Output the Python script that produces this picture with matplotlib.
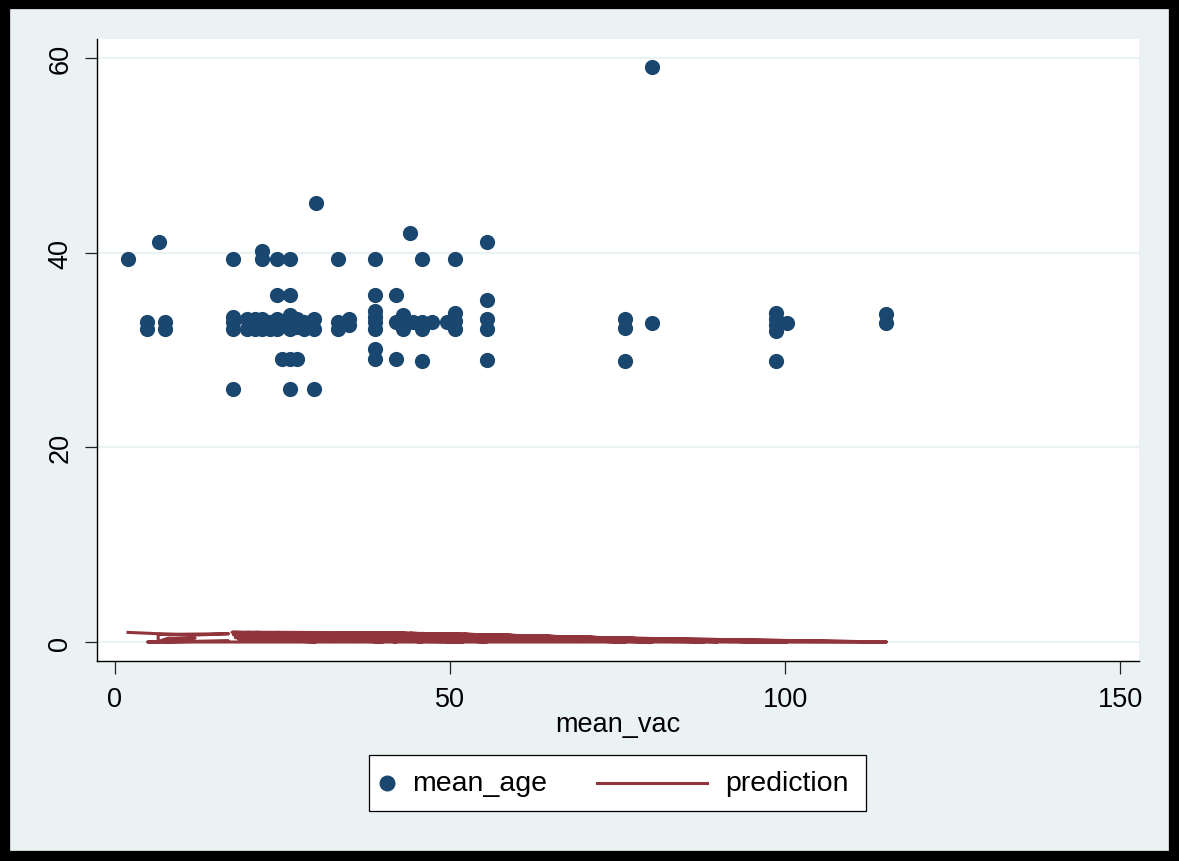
import matplotlib.pyplot as plt
from matplotlib.lines import Line2D
from matplotlib.patches import Rectangle

plt.rcParams['font.family'] = ['Liberation Sans', 'DejaVu Sans']

vac = [2.0, 4.8, 4.8, 6.6, 7.5, 7.5,
       17.7, 17.7, 17.7, 17.7, 17.7,
       19.7, 19.7, 21.0, 21.0,
       22.0, 22.0, 22.0, 22.0, 23.2, 23.2,
       24.2, 24.2, 24.2, 24.2, 25.0, 25.0,
       26.2, 26.2, 26.2, 26.2, 26.2, 26.2, 26.2,
       27.2, 27.2, 27.2, 28.2, 28.2,
       29.7, 29.7, 29.7, 30.0,
       33.3, 33.3, 33.3, 35.0, 35.0,
       38.9, 38.9, 38.9, 38.9, 38.9, 38.9, 38.9, 38.9,
       42.0, 42.0, 42.0, 43.0, 43.0, 43.0, 44.0, 44.5,
       45.9, 45.9, 45.9, 45.9, 47.4, 49.6,
       50.7, 50.7, 50.7, 50.7,
       55.5, 55.5, 55.5, 55.5, 55.5,
       76.2, 76.2, 76.2, 80.2, 80.2,
       98.7, 98.7, 98.7, 98.7, 98.7, 100.3,
       115.1, 115.1]
age = [39.3, 32.9, 32.2, 41.1, 32.9, 32.2,
       39.3, 33.4, 32.9, 32.2, 26.0,
       33.2, 32.2, 33.2, 32.2,
       40.2, 39.3, 33.2, 32.2, 32.9, 32.2,
       39.3, 35.6, 33.2, 32.2, 32.9, 29.1,
       39.3, 35.6, 33.6, 32.9, 32.2, 29.1, 26.0,
       33.2, 32.4, 29.1, 32.9, 32.2,
       33.2, 32.2, 26.0, 45.1,
       39.3, 32.9, 32.2, 33.2, 32.6,
       39.3, 35.6, 34.0, 33.4, 32.9, 32.2, 30.1, 29.1,
       35.6, 32.9, 29.1, 33.6, 32.9, 32.2, 42.0, 32.9,
       39.3, 32.9, 32.2, 28.9, 32.9, 32.9,
       39.3, 33.8, 33.0, 32.2,
       41.1, 35.1, 33.2, 32.2, 29.0,
       33.2, 32.3, 28.9, 59.1, 32.8,
       33.8, 33.2, 32.6, 32.0, 28.9, 32.8,
       33.7, 32.8]

# prediction in data order (unsorted, so the line zigzags)
pred_vac = [2.0, 11.5, 17.0, 6.5, 6.5, 8.0, 12.0, 7.5, 17.0, 4.9, 115.1,
            17.5, 22.0, 26.2, 29.7, 33.3, 38.9, 42.0, 45.9, 50.7, 55.5,
            76.2, 80.2, 98.7, 100.3, 115.1,
            17.7, 98.7, 19.7, 80.2, 21.0, 76.2, 24.2, 55.5, 26.2, 50.7,
            27.2, 45.9, 29.7, 42.0, 33.3, 100.3, 38.9, 98.7, 42.0, 80.2,
            45.9, 98.7, 50.7, 76.2, 55.5, 98.7, 22.0, 62.0, 30.0, 70.0,
            35.0, 88.0, 18.0, 66.0, 40.0, 90.0,
            17.7, 40.0, 19.7, 30.0, 18.5, 52.0, 23.0, 44.0, 25.0, 36.0,
            28.0, 58.0, 31.0, 48.0, 34.0, 64.0, 37.0, 72.0, 44.0, 84.0,
            48.0, 78.0, 52.0, 92.0, 58.0, 86.0, 62.0, 95.0, 68.0, 90.0,
            20.0, 26.0, 18.0, 24.0, 21.0, 33.0, 24.0, 41.0, 27.0, 38.0,
            32.0, 55.0, 36.0, 60.0, 46.0, 68.0, 54.0, 74.0, 60.0, 82.0,
            70.0, 96.0, 74.0, 98.0]
pred = [0.99, 0.70, 0.85, 0.78, 0.05, 0.40, 0.40, 0.03, 0.10, 0.00, 0.00,
        1.00, 1.00, 0.99, 0.98, 0.97, 0.95, 0.92, 0.88, 0.82, 0.75,
        0.38, 0.30, 0.06, 0.05, 0.01,
        0.99, 0.00, 0.99, 0.00, 0.99, 0.00, 0.99, 0.00, 0.98, 0.00,
        0.98, 0.00, 0.98, 0.00, 0.97, 0.00, 0.95, 0.00, 0.92, 0.00,
        0.88, 0.00, 0.82, 0.00, 0.75, 0.00, 0.55, 0.10, 0.70, 0.05,
        0.60, 0.02, 0.45, 0.15, 0.80, 0.03,
        0.75, 0.00, 0.55, 0.00, 0.30, 0.00, 0.85, 0.10, 0.65, 0.05,
        0.90, 0.20, 0.75, 0.10, 0.93, 0.25, 0.85, 0.20, 0.90, 0.15,
        0.85, 0.10, 0.80, 0.05, 0.70, 0.08, 0.64, 0.03, 0.55, 0.05,
        0.95, 0.40, 0.60, 0.20, 0.20, 0.05, 0.40, 0.10, 0.30, 0.60,
        0.50, 0.35, 0.30, 0.55, 0.45, 0.25, 0.30, 0.45, 0.40, 0.20,
        0.30, 0.02, 0.35, 0.04]

W, H = 1179, 862
bg = '#eaf2f3'
navy = '#1a476f'
maroon = '#90353b'

fig = plt.figure(figsize=(W / 100, H / 100), dpi=100, facecolor=bg)
ax = fig.add_axes([97 / W, 1 - 662 / H, (1139 - 97) / W, (662 - 40) / H])
ax.set_facecolor('white')

ax.scatter(vac, age, s=120, color=navy, linewidths=0, zorder=3)
ax.plot(pred_vac, pred, color=maroon, lw=2.2, zorder=2)

ax.set_xlim(-2.63, 152.8)
ax.set_ylim(-1.95, 61.95)
ax.set_xticks([0, 50, 100, 150])
ax.set_yticks([0, 20, 40, 60])
ax.yaxis.grid(True, color=bg, lw=1.6, zorder=0)
ax.set_axisbelow(True)

for s in ['top', 'right']:
    ax.spines[s].set_visible(False)
for s in ['left', 'bottom']:
    ax.spines[s].set_linewidth(1.0)
    ax.spines[s].set_color('black')

ax.tick_params(axis='both', length=9, width=0.9, color='#222222',
               labelsize=19.5, pad=6)
ax.tick_params(axis='x', pad=9)
ax.tick_params(axis='y', labelrotation=90, pad=8)
for lab in ax.get_yticklabels():
    lab.set_va('center')
ax.set_xlabel('mean_vac', fontsize=19.5, labelpad=-1)

# legend drawn in figure pixels
def fx(x):
    return x / W

def fy(y):
    return 1 - y / H

fig.patches.append(Rectangle((fx(369), fy(812)), (866 - 369) / W, (812 - 756) / H,
                             transform=fig.transFigure, facecolor='white',
                             edgecolor='black', lw=0.9))
fig.lines.append(Line2D([fx(387)], [fy(784)], marker='o', ms=10.5, color=navy,
                        lw=0, transform=fig.transFigure))
fig.lines.append(Line2D([fx(597), fx(707)], [fy(784), fy(784)], color=maroon,
                        lw=2.2, transform=fig.transFigure))
fig.text(fx(412), fy(784), 'mean_age', fontsize=20.5, va='center', ha='left')
fig.text(fx(725), fy(784), 'prediction', fontsize=20.5, va='center', ha='left')

# outer black frame
fig.patches.append(Rectangle((5 / W, 5 / H), (W - 10) / W, (H - 10) / H,
                             transform=fig.transFigure, fill=False,
                             edgecolor='black', lw=7.4))

fig.savefig('out.png', dpi=100, facecolor=bg)
